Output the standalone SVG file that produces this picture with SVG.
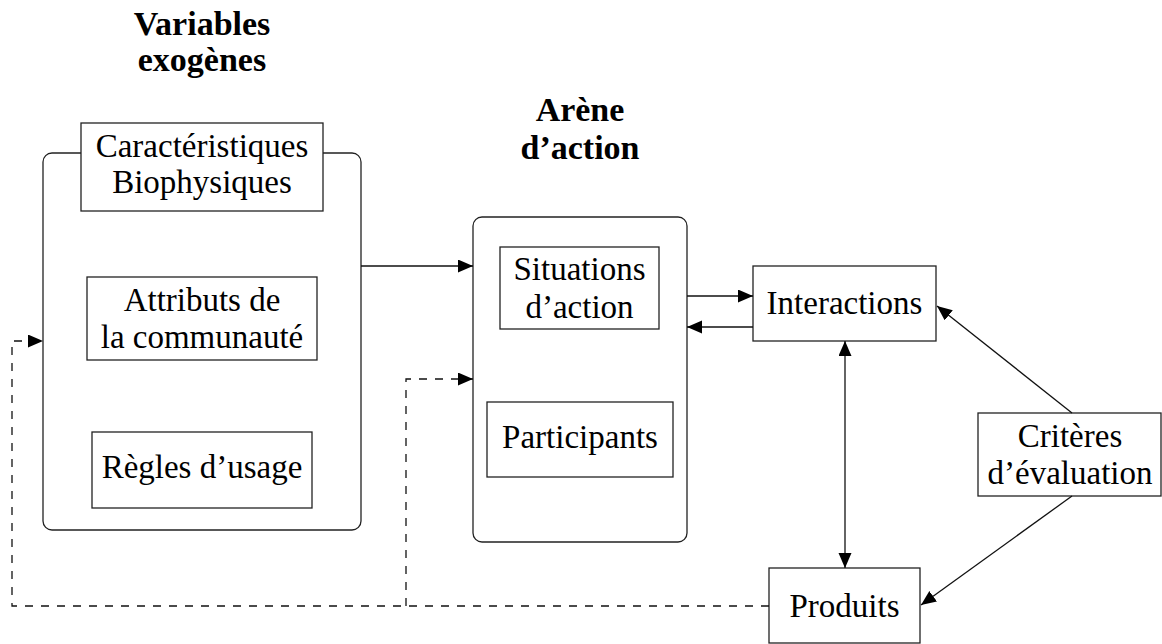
<svg xmlns="http://www.w3.org/2000/svg" width="1162" height="644" viewBox="0 0 1162 644">
<style>
.box{fill:#fff;stroke:#222;stroke-width:1.3}
.rbox{fill:none;stroke:#222;stroke-width:1.3}
.t{font-family:"Liberation Serif","DejaVu Serif",serif;font-size:33px;fill:#000;text-anchor:middle}
.title{font-family:"Liberation Serif","DejaVu Serif",serif;font-size:34px;font-weight:bold;fill:#000;text-anchor:middle}
.c{fill:none;stroke:#111;stroke-width:1.3}
.d{fill:none;stroke:#111;stroke-width:1.3;stroke-dasharray:8 8}
</style>
<defs>
<marker id="ah" markerUnits="userSpaceOnUse" markerWidth="16" markerHeight="14" refX="15" refY="6.5" orient="auto-start-reverse" viewBox="0 0 16 14">
<path d="M0,0 L15,6.5 L0,13 z" fill="#000"/>
</marker>
</defs>
<g id="titles">
<text class="title" x="202" y="35">Variables</text>
<text class="title" x="202" y="71">exogènes</text>
<text class="title" x="580" y="121">Arène</text>
<text class="title" x="580" y="159">d’action</text>
</g>
<g id="exogenes">
<rect class="rbox" x="43" y="153" width="318" height="377" rx="9" ry="9"/>
</g>
<g id="caracteristiques">
<rect class="box" x="81" y="123" width="242" height="88"/>
<text class="t" x="202" y="157">Caractéristiques</text>
<text class="t" x="202" y="193">Biophysiques</text>
</g>
<g id="attributs">
<rect class="box" x="87" y="277" width="230" height="83"/>
<text class="t" x="202" y="311">Attributs de</text>
<text class="t" x="202" y="348">la communauté</text>
</g>
<g id="regles">
<rect class="box" x="92" y="432" width="220" height="76"/>
<text class="t" x="202" y="478">Règles d’usage</text>
</g>
<g id="arene">
<rect class="rbox" x="473" y="217" width="214" height="325" rx="9" ry="9"/>
</g>
<g id="situations">
<rect class="box" x="500" y="247" width="159" height="82"/>
<text class="t" x="579.5" y="280">Situations</text>
<text class="t" x="579.5" y="318">d’action</text>
</g>
<g id="participants">
<rect class="box" x="487" y="402" width="186" height="75"/>
<text class="t" x="580" y="448">Participants</text>
</g>
<g id="interactions">
<rect class="box" x="753" y="266" width="183" height="75"/>
<text class="t" x="844.5" y="314">Interactions</text>
</g>
<g id="criteres">
<rect class="box" x="978" y="413" width="183" height="83"/>
<text class="t" x="1070" y="447">Critères</text>
<text class="t" x="1070" y="484">d’évaluation</text>
</g>
<g id="produits">
<rect class="box" x="769" y="568" width="151" height="75"/>
<text class="t" x="844.5" y="617">Produits</text>
</g>
<g id="connectors">
<line class="c" x1="361" y1="266" x2="473" y2="266" marker-end="url(#ah)"/>
<line class="c" x1="687" y1="296" x2="753" y2="296" marker-end="url(#ah)"/>
<line class="c" x1="753" y1="327" x2="687" y2="327" marker-end="url(#ah)"/>
<line class="c" x1="845" y1="341" x2="845" y2="568" marker-start="url(#ah)" marker-end="url(#ah)"/>
<line class="c" x1="1072" y1="413" x2="937" y2="306" marker-end="url(#ah)"/>
<line class="c" x1="1072" y1="496" x2="921" y2="605" marker-end="url(#ah)"/>
<path class="d" d="M769,606 L12,606 L12,341 L43,341" marker-end="url(#ah)"/>
<path class="d" d="M406,606 L406,379 L473,379" marker-end="url(#ah)"/>
</g>
</svg>
